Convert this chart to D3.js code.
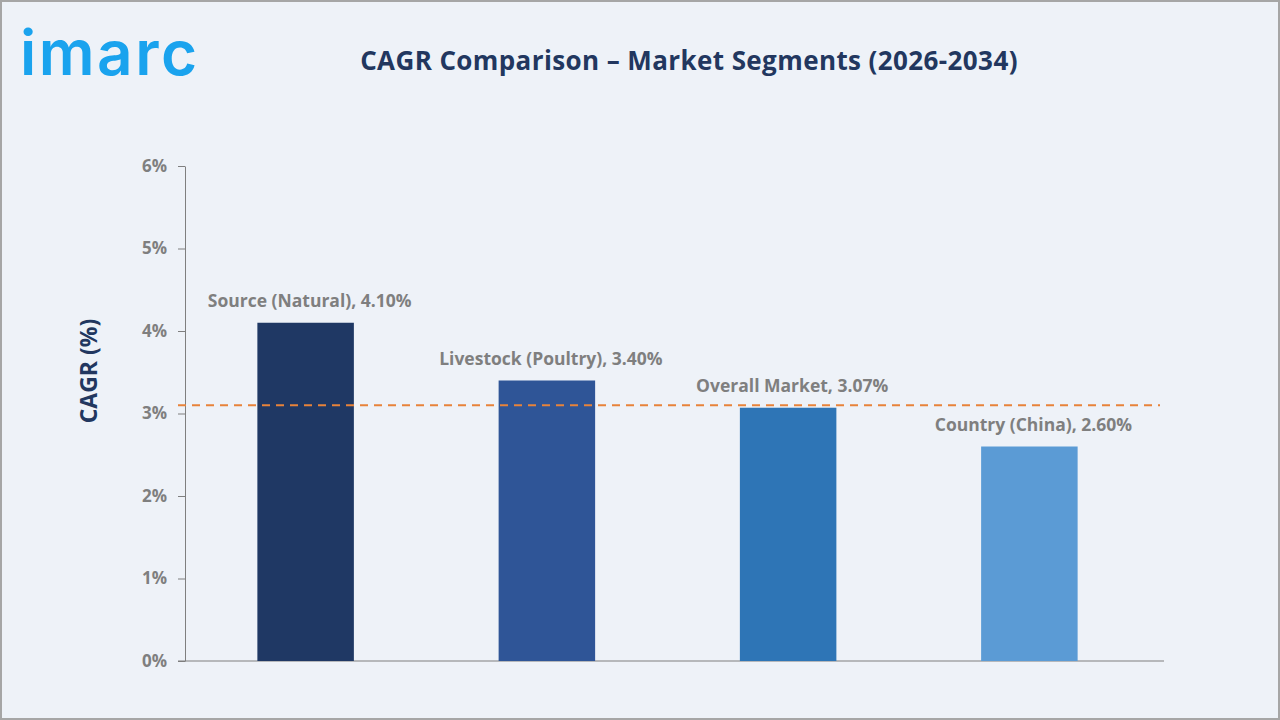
<!DOCTYPE html>
<html>
<head>
<meta charset="utf-8">
<script src="https://cdn.jsdelivr.net/npm/d3@7"></script>
<style>
  body { margin: 0; background: #eef2f8; }
  svg { display: block; font-family: "Open Sans", "Noto Sans", sans-serif; }
</style>
</head>
<body>
<script>
// chart data
const segments = ["Source (Natural)", "Livestock (Poultry)", "Overall Market", "Country (China)"];
const cagrValues = [4.10, 3.40, 3.07, 2.60];
const barColors = ["#1f3864", "#2f5597", "#2e75b6", "#5b9bd5"];
const yTicks = [0, 1, 2, 3, 4, 5, 6];
const refLine = 3.1;

const width = 1280, height = 720;
const margin = {top: 166, right: 116, bottom: 59, left: 185};

const svg = d3.select("body").append("svg").attr("width", width).attr("height", height);

// frame
svg.append("rect").attr("x", 1).attr("y", 1).attr("width", width - 2).attr("height", height - 2)
  .attr("fill", "#eef2f8").attr("stroke", "#a6a6a6").attr("stroke-width", 2);

// logo
svg.append("text").attr("x", 20).attr("y", 75)
  .attr("font-family", "Inter, Roboto, sans-serif").attr("font-weight", 600)
  .attr("font-size", 62).attr("letter-spacing", 2.5).attr("fill", "#1aa3ee")
  .text("imarc");

// title
svg.append("text").attr("x", 689).attr("y", 70).attr("text-anchor", "middle")
  .attr("font-weight", 700).attr("font-size", 26).attr("letter-spacing", 0.4).attr("fill", "#22375f")
  .text("CAGR Comparison – Market Segments (2026-2034)");

// bars sit in a slightly shorter band than the axis line
const x = d3.scaleBand().domain(segments)
  .range([margin.left, 1150])
  .paddingInner(0.6).paddingOuter(0.3);
const y = d3.scaleLinear().domain([0, 6]).range([height - margin.bottom, margin.top]);

// y axis
const yAxis = svg.append("g").attr("transform", `translate(${margin.left},0)`)
  .call(d3.axisLeft(y).tickValues(yTicks).tickFormat(d => d + "%").tickSize(7).tickSizeOuter(0));
yAxis.select(".domain").attr("stroke", "#7f7f7f");
yAxis.selectAll(".tick line").attr("stroke", "#7f7f7f");
yAxis.selectAll(".tick text").attr("x", -18).attr("fill", "#7f7f7f")
  .attr("font-size", 17).attr("font-weight", 700).attr("font-family", "Open Sans, sans-serif");

// x axis baseline
svg.append("line").attr("x1", margin.left - 7).attr("x2", width - margin.right)
  .attr("y1", y(0)).attr("y2", y(0)).attr("stroke", "#7f7f7f");

// y label
svg.append("text").attr("transform", `translate(97,371) rotate(-90)`)
  .attr("text-anchor", "middle").attr("font-weight", 700).attr("font-size", 23)
  .attr("fill", "#22375f").text("CAGR (%)");

// bars
svg.append("g").selectAll("rect").data(segments).join("rect")
  .attr("x", d => x(d)).attr("width", x.bandwidth())
  .attr("y", (d, i) => y(cagrValues[i]))
  .attr("height", (d, i) => y(0) - y(cagrValues[i]))
  .attr("fill", (d, i) => barColors[i]);

// reference line
svg.append("line").attr("x1", margin.left - 7).attr("x2", width - margin.right - 4)
  .attr("y1", y(refLine)).attr("y2", y(refLine))
  .attr("stroke", "#e8833a").attr("stroke-width", 2).attr("stroke-dasharray", "8,6");

// bar labels
svg.append("g").selectAll("text").data(segments).join("text")
  .attr("x", d => x(d) + x.bandwidth() / 2 + 4)
  .attr("y", (d, i) => y(cagrValues[i]) - 16)
  .attr("text-anchor", "middle").attr("font-weight", 700).attr("font-size", 17.5)
  .attr("fill", "#7f7f7f")
  .text((d, i) => `${d}, ${cagrValues[i].toFixed(2)}%`);
</script>
</body>
</html>
